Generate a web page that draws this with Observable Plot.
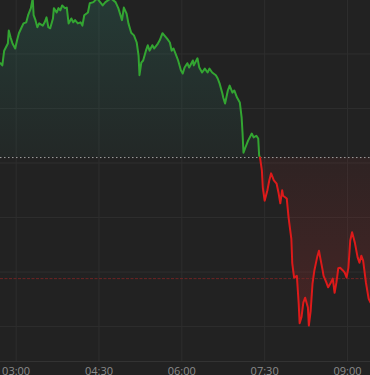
<!DOCTYPE html>
<html>
<head>
<meta charset="utf-8">
<script src="https://cdn.jsdelivr.net/npm/d3@7"></script>
<script src="https://cdn.jsdelivr.net/npm/@observablehq/plot@0.6"></script>
<style>
  html, body { margin: 0; padding: 0; background: #222222; overflow: hidden; }
</style>
</head>
<body>
<div id="chart"></div>
<script>
// Time of each sample (HH:MM) and the price value at that time
const times = ["02:43","02:45","02:47","02:51","02:52","02:54","02:56","02:59","03:01","03:03","03:06","03:08","03:11","03:13","03:16","03:18","03:19","03:21","03:23","03:25","03:29","03:31","03:33","03:35","03:37","03:40","03:41","03:44","03:46","03:48","03:50","03:53","03:55","03:57","04:00","04:02","04:04","04:07","04:10","04:12","04:14","04:18","04:20","04:24","04:28","04:34","04:37","04:43","04:48","04:51","04:55","04:57","05:00","05:02","05:05","05:08","05:11","05:13","05:14","05:16","05:18","05:21","05:23","05:25","05:28","05:30","05:34","05:36","05:39","05:41","05:44","05:47","05:49","05:51","05:54","05:56","05:59","06:01","06:03","06:06","06:08","06:12","06:13","06:17","06:19","06:22","06:25","06:28","06:30","06:33","06:37","06:39","06:41","06:44","06:45","06:47","06:50","06:52","06:55","06:57","07:00","07:03","07:05","07:06","07:07","07:09","07:12","07:16","07:18","07:21","07:23","07:24","07:25","07:27","07:28","07:30","07:33","07:35","07:37","07:40","07:43","07:45","07:47","07:49","07:50","07:54","07:56","07:59","08:00","08:02","08:05","08:07","08:08","08:10","08:12","08:14","08:17","08:18","08:20","08:22","08:24","08:27","08:29","08:31","08:33","08:34","08:37","08:39","08:42","08:44","08:46","08:48","08:50","08:52","08:55","08:57","08:59","09:01","09:03","09:05","09:08","09:11","09:13","09:15","09:17","09:20","09:23","09:25"];
const values = [108.3,107.9,110.6,111.9,114.3,113.0,111.9,111.0,112.5,113.8,114.9,115.6,115.8,117.1,118.4,120.2,117.1,116.2,114.9,115.6,115.2,115.8,116.7,114.9,114.7,116.5,118.4,117.6,118.4,118.0,118.9,118.4,118.5,115.6,116.5,115.8,116.2,115.6,115.8,115.2,117.1,117.6,119.3,119.5,120.2,118.9,119.5,120.2,119.5,118.4,116.2,118.5,117.4,115.6,113.9,113.4,112.1,109.7,106.1,108.4,108.8,110.6,111.6,110.6,111.6,111.0,111.9,112.5,113.8,113.4,112.8,112.1,110.6,111.0,109.7,108.8,107.0,106.4,107.5,108.3,107.5,108.8,107.9,109.2,107.5,106.6,107.3,106.6,107.3,106.6,106.1,105.5,104.6,102.8,102.0,100.9,103.3,104.2,102.9,103.3,102.0,101.1,98.3,95.4,91.9,92.8,94.1,95.4,94.7,95.0,94.5,91.4,91.0,88.6,85.5,83.1,85.0,86.8,88.1,86.8,86.2,84.6,82.6,85.0,84.0,83.5,80.0,76.1,71.6,69.0,69.3,64.2,60.6,61.7,64.4,65.3,63.5,60.2,62.9,67.9,70.3,72.7,73.9,72.1,70.3,69.3,68.1,67.2,68.1,68.8,66.2,68.1,70.7,70.8,70.3,69.9,69.0,70.8,75.8,77.3,75.4,72.7,71.7,73.0,72.1,68.1,65.1,64.4];

const baseline = 91.0;      // previous close (dotted line)
const lowRef = 68.8;        // red reference line
const gridValues = [60, 70, 80, 90, 100, 110];
const tickLabels = ["03:00", "04:30", "06:00", "07:30", "09:00"];
const domainStart = "02:43";
const domainEnd = "09:25";

const toDate = t => { const [h, m] = t.split(":").map(Number); return new Date(Date.UTC(2024, 0, 1, h, m)); };

const data = times.map((t, i) => ({t: toDate(t), v: values[i]}));
const crossIdx = values.indexOf(baseline);
const greenData = data.slice(0, crossIdx + 1);
const redData = data.slice(crossIdx);
const tickDates = tickLabels.map(toDate);

const plot = Plot.plot({
  width: 370,
  height: 375,
  marginTop: 0,
  marginRight: 0,
  marginBottom: 14,
  marginLeft: 0,
  style: {background: "#222222", color: "#8c8c8c", fontSize: "11px", fontFamily: "'Open Sans', sans-serif"},
  x: {
    type: "utc",
    domain: [toDate(domainStart), toDate(domainEnd)],
    ticks: tickDates,
    tickFormat: d3.utcFormat("%H:%M"),
    tickSize: 0,
    tickPadding: 6,
    label: null
  },
  y: {domain: [53.6, 119.8], axis: null},
  marks: [
    Plot.ruleY(gridValues, {stroke: "#2e2e2e", strokeWidth: 1}),
    Plot.ruleX(tickDates, {stroke: "#2e2e2e", strokeWidth: 1}),
    Plot.ruleY([53.6], {stroke: "#333333", strokeWidth: 1}),
    Plot.areaY(greenData, {x: "t", y1: baseline, y2: "v", fill: "url(#gGreen)", clip: true}),
    Plot.areaY(redData, {x: "t", y1: baseline, y2: "v", fill: "url(#gRed)", clip: true}),
    Plot.ruleY([baseline], {stroke: "#a0a0a0", strokeWidth: 1, strokeDasharray: "1.5,2.5"}),
    Plot.ruleY([lowRef], {stroke: "#6e2424", strokeWidth: 1, strokeDasharray: "3,1.5"}),
    Plot.lineY(greenData, {x: "t", y: "v", stroke: "#33a532", strokeWidth: 2, clip: true}),
    Plot.lineY(redData, {x: "t", y: "v", stroke: "#dd1a1a", strokeWidth: 2, clip: true})
  ]
});

const svg = d3.select(plot.tagName.toLowerCase() === "svg" ? plot : plot.querySelector("svg"));
const defs = svg.insert("defs", ":first-child");
const gG = defs.append("linearGradient").attr("id", "gGreen").attr("x1", 0).attr("y1", 0).attr("x2", 0).attr("y2", 1);
gG.append("stop").attr("offset", "0%").attr("stop-color", "#2c6e5e").attr("stop-opacity", 0.32);
gG.append("stop").attr("offset", "100%").attr("stop-color", "#2c6e5e").attr("stop-opacity", 0.08);
const gR = defs.append("linearGradient").attr("id", "gRed").attr("x1", 0).attr("y1", 0).attr("x2", 0).attr("y2", 1);
gR.append("stop").attr("offset", "0%").attr("stop-color", "#8a2a2a").attr("stop-opacity", 0.12);
gR.append("stop").attr("offset", "100%").attr("stop-color", "#8a2a2a").attr("stop-opacity", 0.35);

document.getElementById("chart").appendChild(plot);
</script>
</body>
</html>
